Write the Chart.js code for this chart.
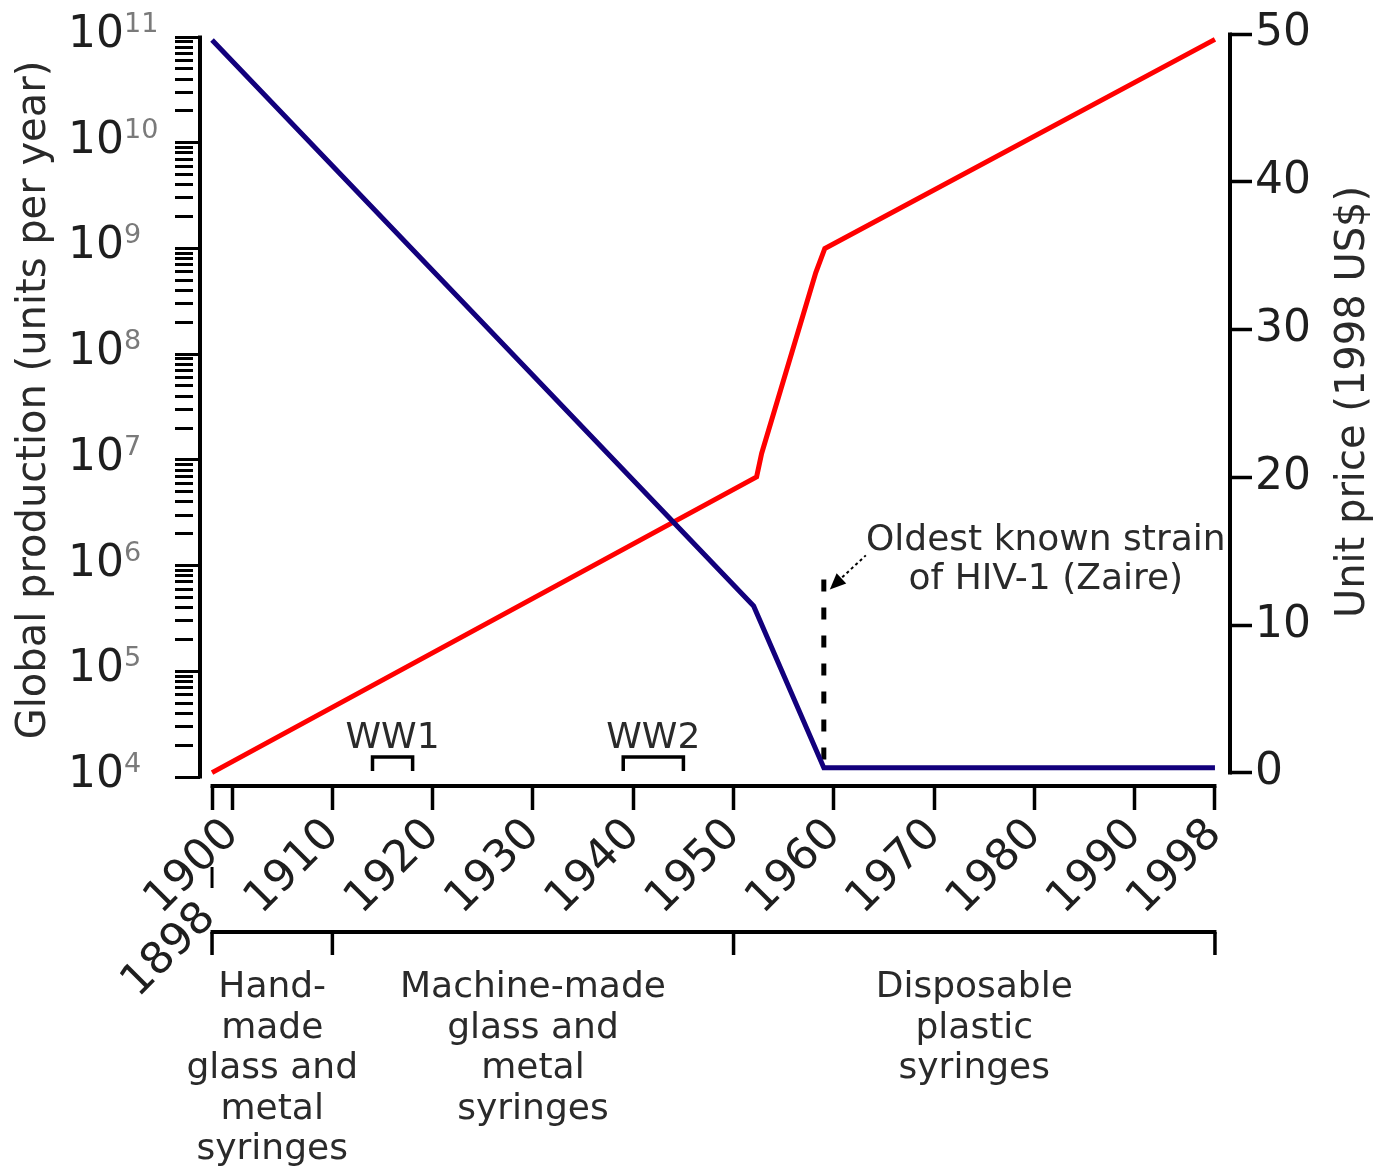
<!DOCTYPE html>
<html>
<head>
<meta charset="utf-8">
<title>Syringes: production and price, 1898–1998</title>
<script src="https://cdn.jsdelivr.net/npm/chart.js@4.4.1/dist/chart.umd.min.js"></script>
<style>
  html, body { margin: 0; padding: 0; background: #fff; }
  #wrap { width: 1377px; height: 1168px; }
</style>
</head>
<body>
<div id="wrap"><canvas id="chart" width="1377" height="1168"></canvas></div>
<script>
// ---- data ---------------------------------------------------------------
const yearTicks = [1898, 1900, 1910, 1920, 1930, 1940, 1950, 1960, 1970, 1980, 1990, 1998];

// Global production, units per year (log axis)
const productionYears = [1898, 1952.3, 1952.8, 1958.2, 1959.1, 1998];
const productionUnits = [1.1e4, 6.9e6, 1.15e7, 5.9e8, 1.0e9, 9.5e10];

// Unit price, 1998 US$ (linear axis)
const priceYears = [1898, 1952, 1959, 1998];
const priceUsd = [49.6, 11.3, 0.35, 0.35];

const priceTicks = [0, 10, 20, 30, 40, 50];
const productionExponents = [4, 5, 6, 7, 8, 9, 10, 11];
const minorMultipliers = [2, 3, 4, 5, 6, 7, 8, 9];

const warLabels = ['WW1', 'WW2'];
const warStart = [1914, 1939];
const warEnd = [1918, 1945];

const hivYear = 1959;
const hivTopUsd = 13.1;
const hivLabel = ['Oldest known strain', 'of HIV-1 (Zaire)'];

const periodBounds = [1898, 1910, 1950, 1998];
const periodLabels = [
  ['Hand-', 'made', 'glass and', 'metal', 'syringes'],
  ['Machine-made', 'glass and', 'metal', 'syringes'],
  ['Disposable', 'plastic', 'syringes']
];

// ---- look ---------------------------------------------------------------
const FONT = 'DejaVu Sans';
const INK = '#1e1e1e';
const GREY = '#7a7a7a';
const RED = '#ff0000';
const NAVY = '#12007c';
const LABEL_ROTATION = 45;

const pts = (xs, ys) => xs.map((x, i) => ({ x, y: ys[i] }));

function fixSize(prop, v) {
  return s => {
    s[prop] = v;
    s.paddingLeft = 0; s.paddingRight = 0; s.paddingTop = 0; s.paddingBottom = 0;
  };
}

// Axis lines, custom labels and annotations
const decor = {
  id: 'decor',
  afterDraw(chart) {
    const { ctx, chartArea: ca } = chart;
    const x = chart.scales.x, prod = chart.scales.prod, price = chart.scales.price;
    const line = (x1, y1, x2, y2) => { ctx.beginPath(); ctx.moveTo(x1, y1); ctx.lineTo(x2, y2); ctx.stroke(); };
    ctx.save();
    ctx.strokeStyle = '#000';
    ctx.lineCap = 'butt';

    // axis lines, each spanning its own range
    ctx.lineWidth = 4;
    const pTop = prod.getPixelForValue(Math.pow(10, productionExponents[productionExponents.length - 1]));
    const pBot = prod.getPixelForValue(Math.pow(10, productionExponents[0]));
    line(ca.left, pTop - 1.5, ca.left, pBot + 1.5);
    const rTop = price.getPixelForValue(priceTicks[priceTicks.length - 1]);
    const rBot = price.getPixelForValue(priceTicks[0]);
    line(ca.right, rTop - 1.5, ca.right, rBot + 1.5);
    const xL = x.getPixelForValue(yearTicks[0]);
    const xR = x.getPixelForValue(yearTicks[yearTicks.length - 1]);
    line(xL - 1.5, ca.bottom, xR + 1.5, ca.bottom);

    // powers of ten on the left axis
    ctx.textAlign = 'left';
    ctx.textBaseline = 'alphabetic';
    productionExponents.forEach(e => {
      const y = prod.getPixelForValue(Math.pow(10, e));
      ctx.font = '44px "' + FONT + '"';
      ctx.fillStyle = INK;
      ctx.fillText('10', 68, y + 10);
      const w = ctx.measureText('10').width;
      ctx.font = '27px "' + FONT + '"';
      ctx.fillStyle = GREY;
      ctx.fillText(String(e), 68 + w, y - 5);
    });

    // axis titles
    ctx.fillStyle = '#2a2a2a';
    ctx.font = '40px "' + FONT + '"';
    ctx.textAlign = 'center';
    ctx.textBaseline = 'middle';
    ctx.save(); ctx.translate(35, 400); ctx.rotate(-Math.PI / 2);
    ctx.fillText('Global production (units per year)', 0, 0); ctx.restore();
    ctx.save(); ctx.translate(1354, 402); ctx.rotate(-Math.PI / 2);
    ctx.fillText('Unit price (1998 US$)', 0, 0); ctx.restore();

    // war brackets
    ctx.lineWidth = 3.5;
    ctx.font = '36px "' + FONT + '"';
    ctx.textBaseline = 'alphabetic';
    warLabels.forEach((lab, i) => {
      const a = x.getPixelForValue(warStart[i]);
      const b = x.getPixelForValue(warEnd[i]);
      const yT = ca.bottom - 29, yB = ca.bottom - 15;
      ctx.beginPath(); ctx.moveTo(a, yB); ctx.lineTo(a, yT); ctx.lineTo(b, yT); ctx.lineTo(b, yB); ctx.stroke();
      ctx.fillText(lab, (a + b) / 2, ca.bottom - 38);
    });

    // HIV annotation: pointer and text
    const hx = x.getPixelForValue(hivYear);
    const hy = price.getPixelForValue(hivTopUsd);
    const tip = { x: hx + 6, y: hy + 10 };
    const end = { x: hx + 42, y: hy - 24 };
    ctx.lineWidth = 2;
    ctx.setLineDash([3, 3]);
    line(tip.x + 8, tip.y - 8, end.x, end.y);
    ctx.setLineDash([]);
    const ang = Math.atan2(end.y - tip.y, end.x - tip.x);
    ctx.fillStyle = '#000';
    ctx.beginPath();
    ctx.moveTo(tip.x, tip.y);
    ctx.lineTo(tip.x + 16 * Math.cos(ang) - 7 * Math.sin(ang), tip.y + 16 * Math.sin(ang) + 7 * Math.cos(ang));
    ctx.lineTo(tip.x + 16 * Math.cos(ang) + 7 * Math.sin(ang), tip.y + 16 * Math.sin(ang) - 7 * Math.cos(ang));
    ctx.closePath(); ctx.fill();
    ctx.fillStyle = '#2a2a2a';
    ctx.font = '36px "' + FONT + '"';
    ctx.textAlign = 'center';
    ctx.fillText(hivLabel[0], hx + 222, hy - 29);
    ctx.fillText(hivLabel[1], hx + 222, hy + 10);

    // first year, set below the row of decades
    ctx.strokeStyle = '#000';
    ctx.lineWidth = 3;
    line(xL, ca.bottom + 81, xL, ca.bottom + 102);
    ctx.save();
    ctx.translate(xL - 3, ca.bottom + 125);
    ctx.rotate(-LABEL_ROTATION * Math.PI / 180);
    ctx.font = '44px "' + FONT + '"';
    ctx.fillStyle = INK;
    ctx.textAlign = 'right';
    ctx.textBaseline = 'middle';
    ctx.fillText(String(yearTicks[0]), 0, 0);
    ctx.restore();

    // technology periods
    const py = ca.bottom + 146;
    ctx.lineWidth = 4;
    line(x.getPixelForValue(periodBounds[0]) - 1.5, py, x.getPixelForValue(periodBounds[periodBounds.length - 1]) + 1.5, py);
    ctx.lineWidth = 3.5;
    periodBounds.forEach(v => { const px = x.getPixelForValue(v); line(px, py, px, py + 23); });
    ctx.font = '36px "' + FONT + '"';
    ctx.fillStyle = '#2a2a2a';
    ctx.textAlign = 'center';
    ctx.textBaseline = 'alphabetic';
    periodLabels.forEach((lines, i) => {
      const cx = x.getPixelForValue((periodBounds[i] + periodBounds[i + 1]) / 2);
      lines.forEach((t, j) => ctx.fillText(t, cx, py + 65 + j * 40.5));
    });

    ctx.restore();
  }
};

new Chart(document.getElementById('chart'), {
  type: 'line',
  data: {
    datasets: [
      {
        label: 'Unit price (1998 US$)',
        data: pts(priceYears, priceUsd),
        yAxisID: 'price',
        borderColor: NAVY,
        borderWidth: 5,
        pointRadius: 0,
        tension: 0,
        clip: 8
      },
      {
        label: 'Global production',
        data: pts(productionYears, productionUnits),
        yAxisID: 'prod',
        borderColor: RED,
        borderWidth: 5,
        pointRadius: 0,
        tension: 0,
        clip: 8
      },
      {
        label: 'Oldest known strain of HIV-1',
        data: pts([hivYear, hivYear], [hivTopUsd, priceUsd[priceUsd.length - 1]]),
        yAxisID: 'price',
        borderColor: '#000',
        borderWidth: 5,
        borderDash: [12, 16],
        pointRadius: 0,
        clip: 8
      }
    ]
  },
  options: {
    responsive: false,
    animation: false,
    devicePixelRatio: 1,
    layout: { padding: { top: 34, left: 0, right: 0, bottom: 0 } },
    plugins: { legend: { display: false }, tooltip: { enabled: false } },
    scales: {
      x: {
        type: 'linear',
        position: 'bottom',
        min: 1896.80,
        max: 1999.50,
        bounds: 'data',
        afterBuildTicks: s => { s.ticks = yearTicks.map(v => ({ value: v })); },
        afterFit: fixSize('height', 382),
        border: { display: false },
        grid: { drawOnChartArea: false, drawTicks: true, tickLength: 24, tickWidth: 3.5, tickColor: '#000' },
        ticks: {
          autoSkip: false,
          minRotation: LABEL_ROTATION,
          maxRotation: LABEL_ROTATION,
          padding: -1,
          color: INK,
          font: { family: FONT, size: 44 },
          callback: v => (v === yearTicks[0] ? '' : String(v))
        }
      },
      prod: {
        type: 'logarithmic',
        position: 'left',
        min: Math.pow(10, 3.9149),
        max: Math.pow(10, 11.0284),
        bounds: 'data',
        afterBuildTicks: s => {
          const t = [];
          productionExponents.forEach((e, i) => {
            t.push({ value: Math.pow(10, e), major: true });
            if (i < productionExponents.length - 1) {
              minorMultipliers.forEach(m => t.push({ value: m * Math.pow(10, e), major: false }));
            }
          });
          t.sort((a, b) => a.value - b.value);
          s.ticks = t;
        },
        afterFit: fixSize('width', 200),
        border: { display: false },
        grid: {
          drawOnChartArea: false,
          drawTicks: true,
          tickLength: 25,
          tickWidth: 3,
          tickColor: '#000',
          tickBorderDash: c => (c.tick && c.tick.major ? [] : [18, 40])
        },
        ticks: { display: false, autoSkip: false }
      },
      price: {
        type: 'linear',
        position: 'right',
        min: -0.88,
        max: 50,
        bounds: 'data',
        afterBuildTicks: s => { s.ticks = priceTicks.map(v => ({ value: v })); },
        afterFit: fixSize('width', 147),
        border: { display: false },
        grid: { drawOnChartArea: false, drawTicks: true, tickLength: 22, tickWidth: 3.5, tickColor: '#000' },
        ticks: { autoSkip: false, padding: 3, color: INK, font: { family: FONT, size: 44 } }
      }
    }
  },
  plugins: [decor]
});
</script>
</body>
</html>
